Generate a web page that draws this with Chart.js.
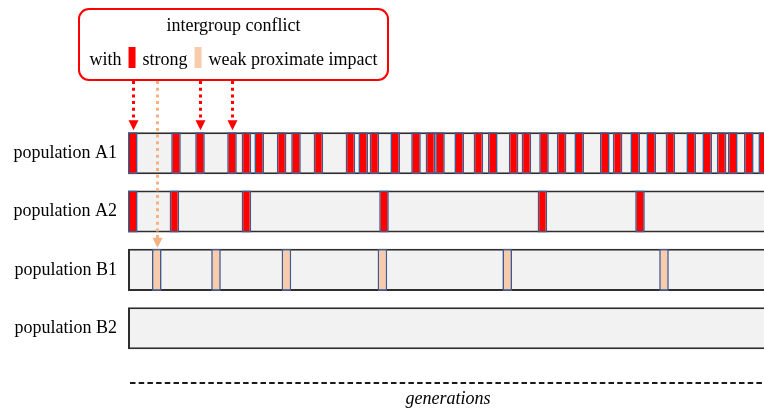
<!DOCTYPE html>
<html>
<head>
<meta charset="utf-8">
<script src="https://cdn.jsdelivr.net/npm/chart.js@4.4.1/dist/chart.umd.min.js"></script>
<style>
html, body { margin: 0; padding: 0; overflow: hidden; background: #fff; }
#wrap { width: 768px; height: 412px; }
</style>
</head>
<body>
<div id="wrap"><canvas id="chart" width="768" height="412"></canvas></div>
<script>
// rows and timeline
const populations = ['population A1', 'population A2', 'population B1', 'population B2'];
const generationRange = [0, 400];
const eventLength = 6;

// start generation of each conflict, per population
const strongA1 = [0, 27, 42, 62, 71, 79, 93, 102, 116, 136, 144, 151, 164, 177, 186, 192, 204, 216, 225,
    238, 246, 257, 268, 279, 295, 303, 314, 324, 336, 349, 359, 368, 375, 385, 394];
const strongA2 = [0, 26, 71, 157, 256, 317];
const weakB1 = [15, 52, 96, 156, 234, 332];
const weakB2 = [];

const RED = '#ff0000';
const PEACH = '#f8cbad';
const SERIF = '"Liberation Serif", "Times New Roman", serif';

function events(row, starts) {
    return starts.map(g => ({ y: row, x: [g, g + eventLength] }));
}

const strongData = [...events(populations[0], strongA1), ...events(populations[1], strongA2)];
const weakData = [...events(populations[2], weakB1), ...events(populations[3], weakB2)];

// which events the legend arrows point at: [dataset index, point index, colour]
const arrowTargets = [
    [0, 0, RED],
    [0, 2, RED],
    [0, 3, RED],
    [1, 0, '#f4b183'],
];

const legendBox = {
    id: 'legendBox',
    afterDraw(chart) {
        const ctx = chart.ctx;
        ctx.save();

        // rounded frame
        ctx.beginPath();
        ctx.roundRect(79, 9, 309, 71, 10);
        ctx.fillStyle = '#fff';
        ctx.fill();
        ctx.lineWidth = 2;
        ctx.strokeStyle = RED;
        ctx.stroke();

        ctx.fillStyle = '#000';
        ctx.font = '18px ' + SERIF;
        ctx.textAlign = 'center';
        ctx.textBaseline = 'alphabetic';
        ctx.fillText('intergroup conflict', 233.5, 31);

        // second line: with [] strong [] weak proximate impact
        const parts = ['with', RED, 'strong', PEACH, 'weak proximate impact'];
        const gap = 7, sw = 7;
        const widths = parts.map(p => p.startsWith('#') ? sw : ctx.measureText(p).width);
        const total = widths.reduce((a, b) => a + b, 0) + gap * (parts.length - 1);
        let x = 233.5 - total / 2;
        ctx.textAlign = 'left';
        parts.forEach((p, i) => {
            if (p.startsWith('#')) {
                ctx.fillStyle = p;
                ctx.fillRect(x, 47, sw, 21);
            } else {
                ctx.fillStyle = '#000';
                ctx.fillText(p, x, 65);
            }
            x += widths[i] + gap;
        });

        // dotted arrows down to the pointed events
        arrowTargets.forEach(([ds, idx, color]) => {
            const el = chart.getDatasetMeta(ds).data[idx];
            const cx = Math.round((el.base + el.x) / 2) + 0.5;
            const tip = el.y - el.height / 2 - (color === RED ? 2 : 1);
            ctx.strokeStyle = color;
            ctx.fillStyle = color;
            ctx.lineWidth = 3;
            ctx.setLineDash([3, 3.7]);
            ctx.beginPath();
            ctx.moveTo(cx, 81);
            ctx.lineTo(cx, tip - 9);
            ctx.stroke();
            ctx.setLineDash([]);
            ctx.beginPath();
            ctx.moveTo(cx - 5, tip - 10);
            ctx.lineTo(cx + 5, tip - 10);
            ctx.lineTo(cx, tip);
            ctx.closePath();
            ctx.fill();
        });

        // dashed generations line
        const xs = chart.scales.x;
        ctx.strokeStyle = '#1a1a1a';
        ctx.lineWidth = 2;
        ctx.setLineDash([5.5, 3.2]);
        ctx.beginPath();
        ctx.moveTo(xs.left + 2, 383);
        ctx.lineTo(chart.width, 383);
        ctx.stroke();
        ctx.restore();
    }
};

Chart.defaults.font.family = SERIF;
Chart.defaults.color = '#000';

new Chart(document.getElementById('chart'), {
    type: 'bar',
    data: {
        labels: populations,
        datasets: [
            {
                label: 'strong',
                data: strongData,
                backgroundColor: RED,
                borderColor: '#41598b',
                borderWidth: 1.6,
                borderSkipped: false,
                grouped: false,
                order: 1,
                clip: false,
            },
            {
                label: 'weak proximate impact',
                data: weakData,
                backgroundColor: PEACH,
                borderColor: '#41598b',
                borderWidth: 1.6,
                borderSkipped: false,
                grouped: false,
                order: 1,
                clip: false,
            },
            {
                label: 'population',
                data: populations.map(p => ({ y: p, x: generationRange })),
                backgroundColor: '#f2f2f2',
                borderColor: '#2e2e2e',
                borderWidth: 2,
                borderSkipped: false,
                grouped: false,
                order: 2,
                clip: false,
            },
        ],
    },
    options: {
        indexAxis: 'y',
        responsive: false,
        animation: false,
        categoryPercentage: 0.72,
        barPercentage: 1,
        layout: { padding: { top: 124, bottom: 2, left: 0, right: 0 } },
        scales: {
            x: {
                type: 'linear',
                min: generationRange[0],
                max: generationRange[1],
                grid: { display: false, drawTicks: false },
                border: { display: false },
                ticks: { display: false },
                title: {
                    display: true,
                    text: 'generations',
                    font: { size: 18, style: 'italic' },
                    padding: { top: 31, bottom: 0 },
                },
            },
            y: {
                type: 'category',
                grid: { display: false, drawTicks: false },
                border: { display: false },
                ticks: { padding: 11, font: { size: 18 } },
                afterFit: s => { s.width = 128; },
            },
        },
        plugins: {
            legend: { display: false },
            tooltip: { enabled: false },
        },
    },
    plugins: [legendBox],
});
</script>
</body>
</html>
